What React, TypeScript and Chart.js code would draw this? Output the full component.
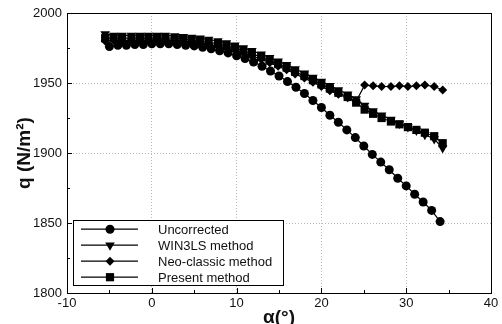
import React, { useEffect, useRef } from "react";
import { Chart, registerables } from "chart.js";
import { drawPoint } from "chart.js/helpers";

Chart.register(...registerables);

const seriesLabels = ["Uncorrected", "WIN3LS method", "Neo-classic method", "Present method"];

const alphaUncorrected = [-5, -4, -3, -2, -1, 0, 1, 2, 3, 4, 5, 6, 7, 8, 9, 10, 11, 12, 13, 14, 15, 16, 17, 18, 19, 20, 21, 22, 23, 24, 25, 26, 27, 28, 29, 30, 31, 32, 33, 34];
const qUncorrected = [1976, 1977, 1977, 1977.5, 1977.5, 1978, 1978, 1978, 1977.5, 1977, 1976.5, 1975.5, 1974.5, 1973, 1971.5, 1969.5, 1967.5, 1965, 1962, 1958.5, 1955, 1951, 1947, 1942.5, 1937.5, 1932.5, 1927, 1922, 1916.5, 1911, 1905, 1899, 1893.5, 1888, 1882, 1876.5, 1870.5, 1865, 1859, 1851];

const alphaCorrected = [-5.5, -4.5, -3.5, -2.4, -1.4, -0.4, 0.6, 1.6, 2.7, 3.7, 4.7, 5.7, 6.7, 7.8, 8.8, 9.8, 10.8, 11.8, 12.9, 13.9, 14.9, 15.9, 16.9, 18.0, 19.0, 20.0, 21.0, 22.0, 23.1, 24.1, 25.1, 26.1, 27.1, 28.2, 29.2, 30.2, 31.2, 32.2, 33.3, 34.3];
const qWin3ls = [1985, 1984, 1984, 1984, 1984, 1984, 1984, 1984, 1983.5, 1983, 1982.5, 1982, 1981, 1980, 1978.5, 1977, 1975, 1973, 1970.5, 1968, 1965.5, 1963, 1960, 1957, 1954, 1951, 1948, 1945, 1942, 1938.5, 1934, 1930, 1927, 1924, 1921, 1918.5, 1916, 1913, 1910, 1903.5];
const qNeoClassic = [1980, 1980.5, 1980.5, 1980.5, 1980.5, 1980.5, 1980.5, 1980.5, 1980.5, 1980, 1979.5, 1978.5, 1977.5, 1976.5, 1975, 1973.5, 1971.5, 1969.5, 1967, 1964.5, 1962, 1959.5, 1956.5, 1953.5, 1950.5, 1947.5, 1944.5, 1942, 1939.5, 1937, 1948.5, 1948, 1947.5, 1947.5, 1948, 1947.5, 1948, 1948.5, 1947.5, 1945];
const qPresent = [1982, 1982, 1982, 1982, 1982, 1982, 1982, 1982, 1982, 1981.5, 1981, 1980, 1979, 1978, 1976.5, 1975, 1973, 1971, 1968.5, 1966, 1963.5, 1961, 1958, 1955, 1952, 1949, 1946, 1943, 1940, 1936, 1931, 1928, 1925, 1922.5, 1920.5, 1918.5, 1916.5, 1914.5, 1912, 1907];

const xTicks = [-10, 0, 10, 20, 30, 40];
const yTicks = [1800, 1850, 1900, 1950, 2000];

const FONT = "'Liberation Sans', Arial, sans-serif";

const markerStyles = [
  { pointStyle: "circle", rotation: 0, radius: 4.5 },
  { pointStyle: "triangle", rotation: 180, radius: 5.5 },
  { pointStyle: "rectRot", rotation: 0, radius: 4.5 },
  { pointStyle: "rect", rotation: 0, radius: 5.8 },
];

const framePlugin = {
  id: "frameAndLegend",
  afterDatasetsDraw(chart: any) {
    const { ctx, chartArea: a, scales } = chart;
    ctx.save();
    ctx.strokeStyle = "#000";
    ctx.lineWidth = 1;
    ctx.beginPath();
    for (let v = -10; v <= 40; v += 5) {
      const x = Math.round(scales.x.getPixelForValue(v)) + 0.5;
      const len = v % 10 === 0 ? 5 : 3;
      ctx.moveTo(x, a.bottom);
      ctx.lineTo(x, a.bottom - len);
    }
    for (let v = 1800; v <= 2000; v += 25) {
      const y = Math.round(scales.y.getPixelForValue(v)) + 0.5;
      const len = v % 50 === 0 ? 5 : 3;
      ctx.moveTo(a.left, y);
      ctx.lineTo(a.left + len, y);
    }
    ctx.stroke();
    ctx.strokeRect(Math.round(a.left) + 0.5, Math.round(a.top) + 0.5, Math.round(a.right - a.left), Math.round(a.bottom - a.top));

    const lx = a.left + 6;
    const ly = scales.y.getPixelForValue(1852);
    const lw = 210;
    const lh = 65;
    ctx.fillStyle = "#fff";
    ctx.fillRect(lx, ly, lw, lh);
    ctx.strokeStyle = "#000";
    ctx.strokeRect(Math.round(lx) + 0.5, Math.round(ly) + 0.5, lw, lh);
    ctx.font = "13px " + FONT;
    ctx.textBaseline = "middle";
    ctx.textAlign = "left";
    chart.data.datasets.forEach((ds: any, i: number) => {
      const y = ly + 9 + i * 16;
      ctx.strokeStyle = "#000";
      ctx.lineWidth = 1.2;
      ctx.beginPath();
      ctx.moveTo(lx + 8, y);
      ctx.lineTo(lx + 65, y);
      ctx.stroke();
      ctx.fillStyle = "#000";
      const m = markerStyles[i];
      drawPoint(ctx, { pointStyle: m.pointStyle, rotation: m.rotation, radius: m.radius, borderWidth: 0 } as any, lx + 37, y);
      ctx.fillStyle = "#111";
      ctx.fillText(ds.label, lx + 85, y + 1);
    });
    ctx.restore();
  },
};

export default function App() {
  const ref = useRef<HTMLCanvasElement | null>(null);
  useEffect(() => {
    document.body.style.margin = "0";
    const canvas = ref.current!;
    const mk = (xs: number[], ys: number[]) => xs.map((x, i) => ({ x, y: ys[i] }));
    const datasets = [
      mk(alphaUncorrected, qUncorrected),
      mk(alphaCorrected, qWin3ls),
      mk(alphaCorrected, qNeoClassic),
      mk(alphaCorrected, qPresent),
    ].map((data, i) => ({
      label: seriesLabels[i],
      data,
      borderColor: "#000",
      backgroundColor: "#000",
      borderWidth: 1.2,
      pointStyle: markerStyles[i].pointStyle,
      rotation: markerStyles[i].rotation,
      pointRadius: markerStyles[i].radius,
      pointBorderWidth: 0,
      pointBackgroundColor: "#000",
      tension: 0,
    }));
    const gridColor = (ctx: any) => {
      const v = ctx.tick && ctx.tick.value;
      const s = ctx.scale;
      if (v === s.min || v === s.max) return "rgba(0,0,0,0)";
      return "#b8b8b8";
    };
    const chart = new Chart(canvas, {
      type: "line",
      data: { datasets: datasets as any },
      options: {
        responsive: false,
        animation: false,
        layout: { padding: { left: 0, top: 13, right: 11, bottom: 0 } },
        plugins: { legend: { display: false }, tooltip: { enabled: false } },
        scales: {
          x: {
            type: "linear",
            min: -10,
            max: 40,
            afterBuildTicks: (s: any) => { s.ticks = xTicks.map((v) => ({ value: v })); },
            afterFit: (s: any) => { s.height = 31; },
            grid: { color: gridColor, drawTicks: false, lineWidth: 1 },
            border: { display: false, dash: [1, 2] },
            ticks: { color: "#111", font: { family: FONT, size: 13 }, padding: 3, maxRotation: 0, callback: (v: any) => String(v) },
            title: { display: true, text: "α(°)", color: "#111", font: { family: FONT, size: 19, weight: "bold" }, padding: { top: 0, bottom: -5 } },
          },
          y: {
            type: "linear",
            min: 1800,
            max: 2000,
            afterBuildTicks: (s: any) => { s.ticks = yTicks.map((v) => ({ value: v })); },
            afterFit: (s: any) => { s.width = 67; },
            grid: { color: gridColor, drawTicks: false, lineWidth: 1 },
            border: { display: false, dash: [1, 2] },
            ticks: { color: "#111", font: { family: FONT, size: 13 }, padding: 5, callback: (v: any) => String(v) },
            title: { display: true, text: "q (N/m²)", color: "#111", font: { family: FONT, size: 19, weight: "bold" }, padding: { top: 13, bottom: 0 } },
          },
        },
      },
      plugins: [framePlugin],
    } as any);
    return () => chart.destroy();
  }, []);
  return <canvas ref={ref} width={502} height={324} style={{ display: "block" }} />;
}
